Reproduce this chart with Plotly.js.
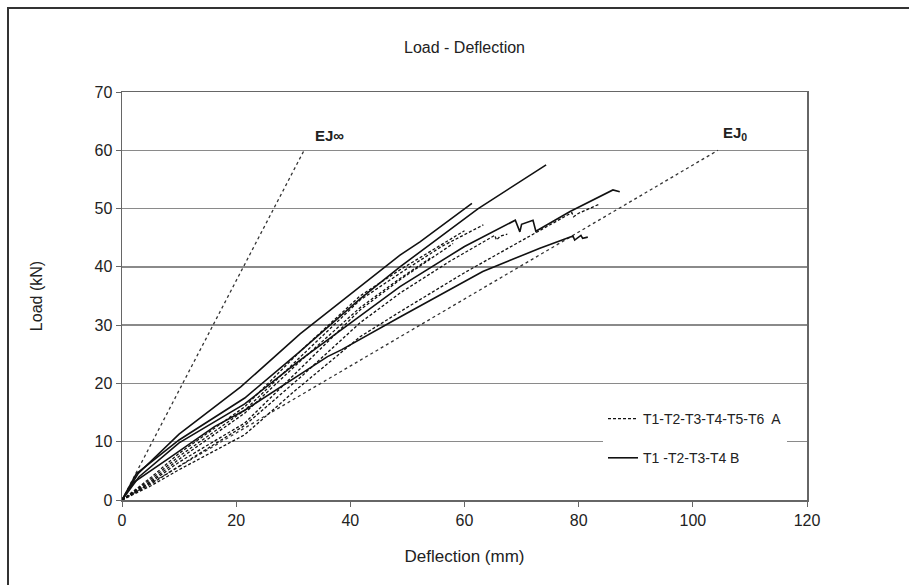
<!DOCTYPE html>
<html>
<head>
<meta charset="utf-8">
<script src="https://cdn.plot.ly/plotly-3.0.1.min.js"></script>
<style>
  html, body { margin: 0; padding: 0; background: #fff; }
  #wrap { position: relative; width: 909px; height: 585px; }
  #chart { width: 909px; height: 585px; }
  #frame { position: absolute; left: 7px; top: 7px; width: 960px; height: 640px;
           border-left: 2px solid #333; border-top: 2px solid #333; pointer-events: none; }
</style>
</head>
<body>
<div id="wrap">
  <div id="chart"></div>
  <div id="frame"></div>
</div>
<script>
// Reference stiffness lines
const ejInfX = [0, 31.9];
const ejInfY = [0, 60];
const ej0X = [0, 104.4];
const ej0Y = [0, 60];

// Series A (dashed): T1-T2-T3-T4-T5-T6
const a1X = [0, 5, 10, 21.5, 31.2, 41.7, 48.7, 56, 63.3];
const a1Y = [0, 3.5, 7.5, 15.4, 24.5, 34.3, 38.9, 43.5, 47.2];
const a2X = [0, 5, 10, 21.5, 30, 41.7, 48.7, 60, 70, 78.8, 79.1, 80, 83.7];
const a2Y = [0, 2.4, 5.2, 11.2, 18.5, 28, 32.3, 39, 44.5, 49.3, 48.6, 49.2, 50.8];
const a3X = [0, 5, 10, 21.5, 31.2, 41.7, 48.7, 57.5, 65.3, 65.6, 66.3, 67.5];
const a3Y = [0, 2.7, 5.8, 12.8, 21, 30.4, 35.5, 41, 45.4, 44.6, 45.3, 45.6];
const a4X = [0, 5, 10, 21.5, 31.2, 41.7, 48.7, 54];
const a4Y = [0, 3.2, 7, 14.9, 23.8, 33, 38, 41.5];
const a5X = [0, 5, 10, 21.5, 31.2, 41.7, 48.7, 58];
const a5Y = [0, 3, 6.5, 13.2, 22.5, 32.6, 37.8, 44];
const a6X = [0, 5, 10, 21.5, 31.2, 41.7, 48.7, 60];
const a6Y = [0, 3.8, 8, 16, 25.5, 35, 39.5, 46.2];

// Series B (solid): T1-T2-T3-T4
const b1X = [0, 2.8, 10, 20.8, 31.2, 41.7, 48.7, 52.2, 61.3];
const b1Y = [0, 4.5, 11.3, 19.4, 28.5, 36.6, 42, 44.3, 50.9];
const b2X = [0, 2.5, 10, 21.5, 31.2, 41.7, 48.7, 62.4, 74.3];
const b2Y = [0, 4.5, 10.3, 17.5, 25.5, 34.5, 40, 50, 57.5];
const b3X = [0, 3, 10, 21.5, 31.2, 41.7, 48.7, 60, 68.9, 69.7, 70.0, 72.0, 72.5, 78.5, 86, 87.2];
const b3Y = [0, 4, 9.8, 16.5, 24, 31.5, 36.6, 43.5, 48.0, 46.0, 47.3, 48.0, 46.1, 49.5, 53.2, 52.9];
const b4X = [0, 2, 8, 16.2, 21.5, 30, 36, 38.5, 40.5, 48.7, 63.2, 73.2, 79, 79.3, 80.4, 80.7, 81.6];
const b4Y = [0, 3, 7, 12.6, 15.4, 20.8, 24.6, 25.8, 26.9, 31.4, 39.2, 43.2, 45.3, 44.6, 45.4, 44.9, 45.1];

const xTicks = [0, 20, 40, 60, 80, 100, 120];
const yTicks = [0, 10, 20, 30, 40, 50, 60, 70];

const nameA = 'T1-T2-T3-T4-T5-T6\u00a0 A';
const nameB = 'T1 -T2-T3-T4 B';

const font = 'Liberation Sans, Arial, sans-serif';

const dashedA = { color: '#111', width: 1.3, dash: '3px,2px' };
const solidB = { color: '#111', width: 1.6 };
const dotted = { color: '#333', width: 1.3, dash: 'dot' };

const aSeries = [[a1X, a1Y], [a2X, a2Y], [a3X, a3Y], [a4X, a4Y], [a5X, a5Y], [a6X, a6Y]];
const bSeries = [[b1X, b1Y], [b2X, b2Y], [b3X, b3Y], [b4X, b4Y]];

const traces = [];
traces.push({ x: ejInfX, y: ejInfY, mode: 'lines', line: dotted, showlegend: false, hoverinfo: 'skip' });
traces.push({ x: ej0X, y: ej0Y, mode: 'lines', line: dotted, showlegend: false, hoverinfo: 'skip' });
aSeries.forEach((s, i) => traces.push({
  x: s[0], y: s[1], mode: 'lines', line: dashedA, name: nameA,
  legendgroup: 'A', showlegend: i === 0
}));
bSeries.forEach((s, i) => traces.push({
  x: s[0], y: s[1], mode: 'lines', line: solidB, name: nameB,
  legendgroup: 'B', showlegend: i === 0
}));

const layout = {
  width: 909, height: 585,
  margin: { l: 122, r: 102, t: 92, b: 85 },
  paper_bgcolor: '#fff', plot_bgcolor: '#fff',
  font: { family: font, size: 15, color: '#222' },
  title: { text: 'Load - Deflection', font: { family: font, size: 16, color: '#222' },
           x: 0.5, xref: 'paper', xanchor: 'center', y: 1 - 47 / 585, yanchor: 'middle' },
  xaxis: {
    range: [0, 120], tickvals: xTicks, ticktext: xTicks.map(String),
    showgrid: false, zeroline: false,
    showline: true, linecolor: '#666', linewidth: 1.5, mirror: true,
    ticks: 'outside', ticklen: 5, tickcolor: '#666',
    tickfont: { family: font, size: 16, color: '#222' },
    title: { text: 'Deflection (mm)', font: { family: font, size: 17, color: '#222' }, standoff: 22 }
  },
  yaxis: {
    range: [0, 70], tickvals: yTicks, ticktext: yTicks.map(String),
    showgrid: true, gridcolor: '#8a8a8a', gridwidth: 1.3, zeroline: false,
    showline: true, linecolor: '#666', linewidth: 1.5, mirror: true,
    ticks: 'outside', ticklen: 5, tickcolor: '#666',
    tickfont: { family: font, size: 16, color: '#222' },
    title: { text: 'Load (kN)', font: { family: font, size: 16, color: '#222' }, standoff: 48 }
  },
  legend: {
    x: (603 - 122) / 685, xanchor: 'left', y: (500 - 403) / 408, yanchor: 'top',
    bgcolor: '#fff', borderwidth: 0, tracegroupgap: 18,
    font: { family: font, size: 14, color: '#222' }
  },
  annotations: [
    { x: 36.3, y: 62.6, xref: 'x', yref: 'y', text: '<b>EJ\u221e</b>', showarrow: false,
      font: { family: font, size: 15, color: '#222' } },
    { x: 107.4, y: 62.8, xref: 'x', yref: 'y', text: '<b>EJ<sub>0</sub></b>', showarrow: false,
      font: { family: font, size: 15, color: '#222' } }
  ]
};

Plotly.newPlot('chart', traces, layout, { displayModeBar: false, staticPlot: true });
</script>
</body>
</html>
